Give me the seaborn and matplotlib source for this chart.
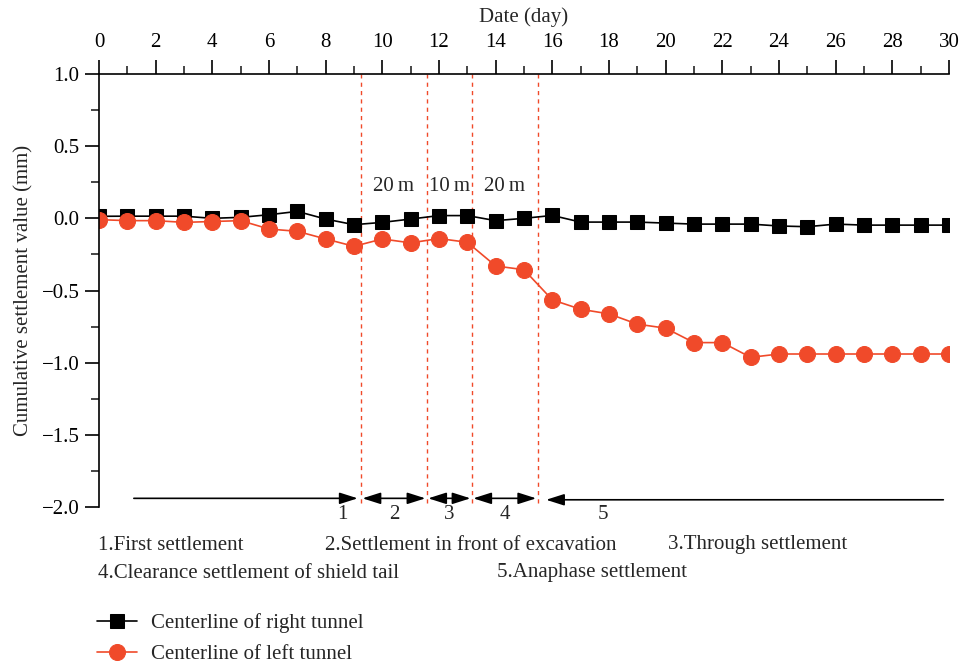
import matplotlib
matplotlib.use("Agg")
import matplotlib.pyplot as plt
import seaborn as sns
import pandas as pd
import numpy as np

# Monitoring days
days = list(range(0, 31))

# Cumulative settlement (mm) along the right tunnel centerline
right_tunnel = [0.014, 0.015, 0.015, 0.015, 0.0, 0.007, 0.025, 0.048, -0.005, -0.044,
                -0.028, -0.005, 0.019, 0.019, -0.016, 0.0, 0.02, -0.026, -0.026, -0.026,
                -0.033, -0.04, -0.04, -0.04, -0.053, -0.058, -0.04, -0.047, -0.047, -0.047,
                -0.047]

# Cumulative settlement (mm) along the left tunnel centerline
left_tunnel = [-0.009, -0.016, -0.016, -0.028, -0.022, -0.016, -0.074, -0.09, -0.143, -0.194,
               -0.143, -0.17, -0.14, -0.166, -0.33, -0.356, -0.565, -0.63, -0.662, -0.733,
               -0.761, -0.861, -0.861, -0.963, -0.94, -0.94, -0.94, -0.94, -0.94, -0.94,
               -0.94]

# Boundaries between construction stages (day)
stage_bounds = [9.25, 11.57, 13.16, 15.48]
spacing_labels = ["20\u2009m", "10\u2009m", "20\u2009m"]
stage_numbers = ["1", "2", "3", "4", "5"]
stage_names = ["1.First settlement", "2.Settlement in front of excavation",
               "3.Through settlement", "4.Clearance settlement of shield tail",
               "5.Anaphase settlement"]
series_names = ["Centerline of right tunnel", "Centerline of left tunnel"]

sns.set_style("ticks")
plt.rcParams["font.family"] = ["Liberation Serif", "DejaVu Serif"]
plt.rcParams["axes.unicode_minus"] = True

BLACK = "#000000"
RED = "#F04A2A"
FS = 15

fig = plt.figure(figsize=(9.6, 6.65), dpi=100)
W, H = 960, 665
ax = fig.add_axes([99 / W, 1 - 507 / H, (949 - 99) / W, (507 - 74) / H])

df = pd.DataFrame({"day": days, "right": right_tunnel, "left": left_tunnel})
sns.lineplot(data=df, x="day", y="right", ax=ax, color=BLACK, marker="s",
             markersize=10, markeredgecolor=BLACK, linewidth=1.2, label=series_names[0],
             legend=False)
sns.lineplot(data=df, x="day", y="left", ax=ax, color=RED, marker="o",
             markersize=11.5, markeredgecolor=RED, linewidth=1.2, label=series_names[1],
             legend=False)

ax.set_xlim(0, 30)
ax.set_ylim(-2.0, 1.0)

# Axis styling: x axis on top, y axis on left, ticks pointing outward
ax.xaxis.tick_top()
ax.xaxis.set_label_position("top")
for side in ["right", "bottom"]:
    ax.spines[side].set_visible(False)
for side in ["top", "left"]:
    ax.spines[side].set_linewidth(1.2)
    ax.spines[side].set_color("black")

ax.set_xticks(np.arange(0, 31, 2))
ax.set_xticks(np.arange(0, 31, 1), minor=True)
ax.set_yticks(np.arange(-2.0, 1.01, 0.5))
ax.set_yticks(np.arange(-2.0, 1.01, 0.25), minor=True)
ax.set_yticklabels([f"{v:.1f}".replace("-", "\u2212") for v in np.arange(-2.0, 1.01, 0.5)])
ax.tick_params(axis="both", which="major", direction="out", length=10, width=1.2,
               labelsize=FS, colors="black")
ax.tick_params(axis="x", which="major", pad=6)
ax.tick_params(axis="y", which="major", pad=4)
ax.tick_params(axis="both", which="minor", direction="out", length=5.5, width=1.2)
ax.tick_params(axis="x", which="both", top=True, bottom=False)
ax.set_xlabel("Date (day)", fontsize=FS, labelpad=8)
ax.set_ylabel("Cumulative settlement value (mm)", fontsize=FS, labelpad=6)
ax.grid(False)

# Stage boundaries
for xb in stage_bounds:
    ax.plot([xb, xb], [-1.975, 1.0], color=RED, linewidth=1.0,
            linestyle=(0, (3, 3)), zorder=1)

# Tunnel face spacing between boundaries
for i, lab in enumerate(spacing_labels):
    xc = (stage_bounds[i] + stage_bounds[i + 1]) / 2
    ax.text(xc, 0.22, lab, ha="center", va="center", fontsize=FS)

# Stage arrows
ya = -1.94
head = dict(arrowstyle="-|>,head_length=1.1,head_width=0.35", color="black", lw=1.2,
            shrinkA=0, shrinkB=0)
dbl = dict(arrowstyle="<|-|>,head_length=1.1,head_width=0.35", color="black", lw=1.2,
           shrinkA=0, shrinkB=0)
ax.annotate("", xy=(stage_bounds[0] - 0.12, ya), xytext=(1.23, ya), arrowprops=head)
for i in range(3):
    ax.annotate("", xy=(stage_bounds[i + 1] - 0.05, ya),
                xytext=(stage_bounds[i] + 0.05, ya), arrowprops=dbl)
ax.annotate("", xy=(stage_bounds[3] + 0.3, ya - 0.01), xytext=(29.8, ya - 0.01),
            arrowprops=head)

num_x = [stage_bounds[0] - 0.65,
         (stage_bounds[0] + stage_bounds[1]) / 2,
         (stage_bounds[1] + stage_bounds[2]) / 2,
         (stage_bounds[2] + stage_bounds[3]) / 2,
         17.8]
for xn, lab in zip(num_x, stage_numbers):
    ax.text(xn, -2.05, lab, ha="center", va="center", fontsize=FS, clip_on=False)

# Stage descriptions below the plot
desc_pos = [(98, 545), (325, 545), (668, 545), (98, 573), (497, 573)]
for (px, py), name in zip(desc_pos, stage_names):
    fig.text(px / W, 1 - py / H, name, ha="left", va="center", fontsize=FS)

# Series legend
handles, labels = ax.get_legend_handles_labels()
fig.legend(handles, labels, loc="upper left", bbox_to_anchor=(97 / W, 1 - 613 / H),
           frameon=False, fontsize=FS, handlelength=1.9, handletextpad=0.7,
           labelspacing=0.55, borderaxespad=0, borderpad=0)

fig.savefig("out.png", dpi=100)
